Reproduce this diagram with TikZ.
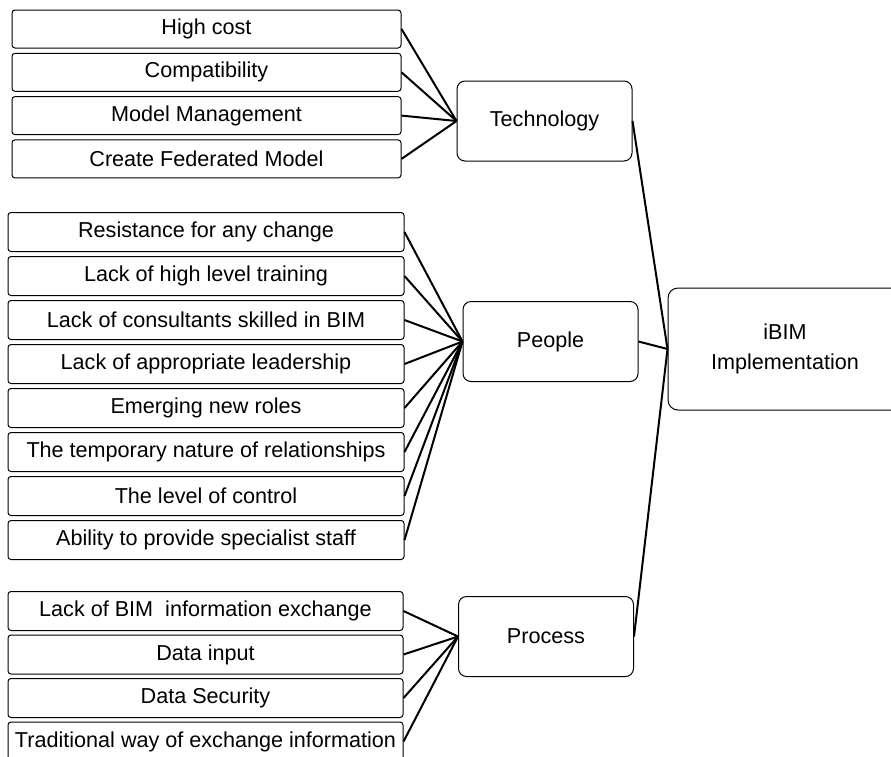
\documentclass[tikz,border=0pt]{standalone}
\usepackage{fontspec}
\setmainfont{Liberation Sans}
\begin{document}
\begin{tikzpicture}[x=1pt,y=-1pt,
    leaf/.style={draw, rounded corners=3pt, line width=1pt, minimum height=38pt, inner sep=0pt, font=\fontsize{21.6}{25}\selectfont},
    group/.style={draw, rounded corners=8pt, line width=1pt, minimum width=175pt, minimum height=80pt, font=\fontsize{21.6}{25}\selectfont},
    link/.style={line width=2pt}]

\useasboundingbox (0,0) rectangle (891,756);
\clip (0,0) rectangle (891,756);

\node[group] (tech) at (544.5,121) {Technology};
\node[group] (people) at (550.5,341.5) {People};
\node[group] (process) at (546,636.5) {Process};
\node[group, minimum width=234pt, minimum height=122pt, rounded corners=10pt, align=center, font=\fontsize{21.6}{30}\selectfont] (ibim) at (785,349) {iBIM\\Implementation};

\foreach \txt [count=\i] in {High cost, Compatibility, Model Management, Create Federated Model} {
  \node[leaf, minimum width=389pt] (tech\i) at (206.5,{29+43.3*(\i-1)}) {\txt};
  \draw[link] (tech\i.east) -- (tech.west);
}

\foreach \txt [count=\i] in {Resistance for any change, Lack of high level training, Lack of consultants skilled in BIM, Lack of appropriate leadership, Emerging new roles, The temporary nature of relationships, The level of control, Ability to provide specialist staff} {
  \node[leaf, minimum width=396pt, minimum height=39pt] (people\i) at (206,{232+44*(\i-1)}) {\txt};
  \draw[link] (people\i.east) -- (people.west);
}

\foreach \txt [count=\i] in {Lack of BIM\ \ information exchange, Data input, Data Security, Traditional way of exchange information} {
  \node[leaf, minimum width=395pt, minimum height=39pt] (process\i) at (205.5,{611+43.5*(\i-1)}) {\txt};
  \draw[link] (process\i.east) -- (process.west);
}

\draw[link] (tech.east) -- (ibim.west);
\draw[link] (people.east) -- (ibim.west);
\draw[link] (process.east) -- (ibim.west);

\end{tikzpicture}
\end{document}
